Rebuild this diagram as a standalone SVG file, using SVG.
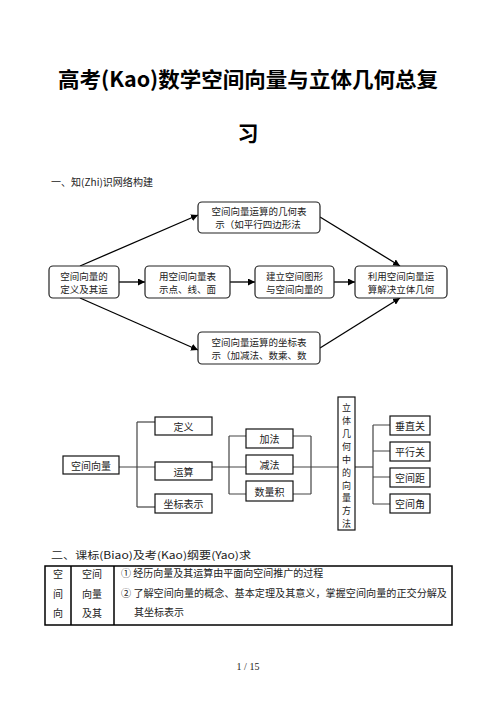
<svg xmlns="http://www.w3.org/2000/svg" width="496" height="702" viewBox="0 0 496 702">
<defs>
<marker id="ah" viewBox="0 0 10 10" refX="10" refY="5" markerWidth="7" markerHeight="7" markerUnits="userSpaceOnUse" orient="auto"><path d="M0,0 L10,5 L0,10 z" fill="#000"/></marker>
<style>
text{font-family:"Noto Sans CJK SC","Noto Sans",sans-serif;fill:#222}
.t{font-size:21px;font-weight:700;fill:#000}
.h{font-size:10px}
.f{font-size:10px;text-anchor:middle;dominant-baseline:central}
.g{font-size:9.5px;text-anchor:middle;dominant-baseline:central}
.v{font-size:9px;text-anchor:middle;dominant-baseline:central}
.rb{fill:#fff;stroke:#222;stroke-width:1.2}
.sb{fill:#fff;stroke:#111;stroke-width:1.2}
.ar{stroke:#000;stroke-width:1.3;fill:none;marker-end:url(#ah)}
.ln{stroke:#444;stroke-width:1.2;fill:none}
.tb{stroke:#000;stroke-width:1.5;fill:none}
.pg{font-family:"Liberation Serif",serif;font-size:10px;text-anchor:middle}
</style>
</defs>
<rect width="496" height="702" fill="#fff"/>
<text class="t" x="248" y="87" text-anchor="middle" textLength="380" lengthAdjust="spacingAndGlyphs">高考(Kao)数学空间向量与立体几何总复</text>
<text class="t" x="248" y="141" text-anchor="middle">习</text>
<text class="h" x="51" y="186" textLength="102" lengthAdjust="spacingAndGlyphs">一、知(Zhi)识网络构建</text>
<g id="connectors">
<path class="ar" d="M80,266 L198,215"/>
<path class="ar" d="M320,217 L400,266"/>
<path class="ar" d="M80,298 L198,350"/>
<path class="ar" d="M320,348 L400,298"/>
<path class="ar" d="M119,282 L145,282"/>
<path class="ar" d="M230,282 L255,282"/>
<path class="ar" d="M334,282 L355,282"/>
</g>
<g id="n-top"><rect class="rb" x="198" y="202" width="122" height="31" rx="4"/><text class="g" x="259" y="211">空间向量运算的几何表</text><text class="g" x="258" y="224">示（如平行四边形法</text></g>
<g id="n-def"><rect class="rb" x="49" y="266" width="70" height="32" rx="4"/><text class="g" x="84" y="275.5">空间向量的</text><text class="g" x="84" y="288.5">定义及其运</text></g>
<g id="n-pt"><rect class="rb" x="145" y="266" width="85" height="32" rx="4"/><text class="g" x="187.5" y="275.5">用空间向量表</text><text class="g" x="187.5" y="288.5">示点、线、面</text></g>
<g id="n-build"><rect class="rb" x="255" y="266" width="79" height="32" rx="4"/><text class="g" x="294.5" y="275.5">建立空间图形</text><text class="g" x="294.5" y="288.5">与空间向量的</text></g>
<g id="n-use"><rect class="rb" x="355" y="266" width="92" height="32" rx="4"/><text class="g" x="401" y="275.5">利用空间向量运</text><text class="g" x="401" y="288.5">算解决立体几何</text></g>
<g id="n-bot"><rect class="rb" x="198" y="332" width="122" height="32" rx="4"/><text class="g" x="259" y="341.5">空间向量运算的坐标表</text><text class="g" x="259" y="354.5">示（加减法、数乘、数</text></g>

<g id="tree-lines">
<path class="ln" d="M119,467 L155,467"/>
<path class="ln" d="M137,422 L137,507"/>
<path class="ln" d="M137,422 L155,422"/>
<path class="ln" d="M137,507 L155,507"/>
<path class="ln" d="M212,467 L338,467"/>
<path class="ln" d="M229,436 L229,494 M229,436 L246,436 M229,494 L246,494"/>
<path class="ln" d="M311,436 L311,494 M293,436 L311,436 M293,494 L311,494"/>
<path class="ln" d="M355,467 L373,467"/>
<path class="ln" d="M373,425 L373,504 M373,425 L390,425 M373,451 L390,451 M373,477 L390,477 M373,504 L390,504"/>
</g>
<g id="b-vec"><rect class="sb" x="63" y="456" width="56" height="18"/><text class="f" x="91" y="465">空间向量</text></g>
<g id="b-def"><rect class="sb" x="155" y="417" width="57" height="18"/><text class="f" x="183.5" y="426">定义</text></g>
<g id="b-op"><rect class="sb" x="155" y="462" width="57" height="18"/><text class="f" x="183.5" y="471">运算</text></g>
<g id="b-coord"><rect class="sb" x="155" y="494" width="57" height="19"/><text class="f" x="183.5" y="503.5">坐标表示</text></g>
<g id="b-add"><rect class="sb" x="246" y="429" width="47" height="19"/><text class="f" x="269.5" y="438.5">加法</text></g>
<g id="b-sub"><rect class="sb" x="246" y="455" width="47" height="19"/><text class="f" x="269.5" y="464.5">减法</text></g>
<g id="b-dot"><rect class="sb" x="246" y="481" width="47" height="20"/><text class="f" x="269.5" y="491">数量积</text></g>
<g id="b-method"><rect class="sb" x="338" y="397" width="17" height="133"/>
<text class="v" x="346.5" y="407">立</text><text class="v" x="346.5" y="420">体</text><text class="v" x="346.5" y="433">几</text><text class="v" x="346.5" y="446">何</text><text class="v" x="346.5" y="459">中</text><text class="v" x="346.5" y="472">的</text><text class="v" x="346.5" y="485">向</text><text class="v" x="346.5" y="497.5">量</text><text class="v" x="346.5" y="510.5">方</text><text class="v" x="346.5" y="523">法</text></g>
<g id="b-perp"><rect class="sb" x="390" y="416" width="40" height="19"/><text class="f" x="410" y="425.5">垂直关</text></g>
<g id="b-para"><rect class="sb" x="390" y="442" width="40" height="19"/><text class="f" x="410" y="451.5">平行关</text></g>
<g id="b-dist"><rect class="sb" x="390" y="468" width="40" height="19"/><text class="f" x="410" y="477.5">空间距</text></g>
<g id="b-angle"><rect class="sb" x="390" y="494" width="40" height="19"/><text class="f" x="410" y="503.5">空间角</text></g>

<text class="h" x="51" y="559" textLength="200" lengthAdjust="spacingAndGlyphs">二、课标(Biao)及考(Kao)纲要(Yao)求</text>
<g id="table">
<rect class="tb" x="45" y="566" width="407" height="59"/>
<path class="tb" d="M71,566 L71,625 M114,566 L114,625"/>
<text class="f" x="58" y="573">空</text><text class="f" x="58" y="593">间</text><text class="f" x="58" y="612">向</text>
<text class="f" x="92" y="573">空间</text><text class="f" x="92" y="593">向量</text><text class="f" x="92" y="612">及其</text>
<text class="h" x="121" y="576.5">① 经历向量及其运算由平面向空间推广的过程</text>
<text class="h" x="121" y="596.5" textLength="326" lengthAdjust="spacingAndGlyphs">② 了解空间向量的概念、基本定理及其意义，掌握空间向量的正交分解及</text>
<text class="h" x="134" y="615.5">其坐标表示</text>
</g>
<text class="pg" x="248" y="670">1 / 15</text>
</svg>
